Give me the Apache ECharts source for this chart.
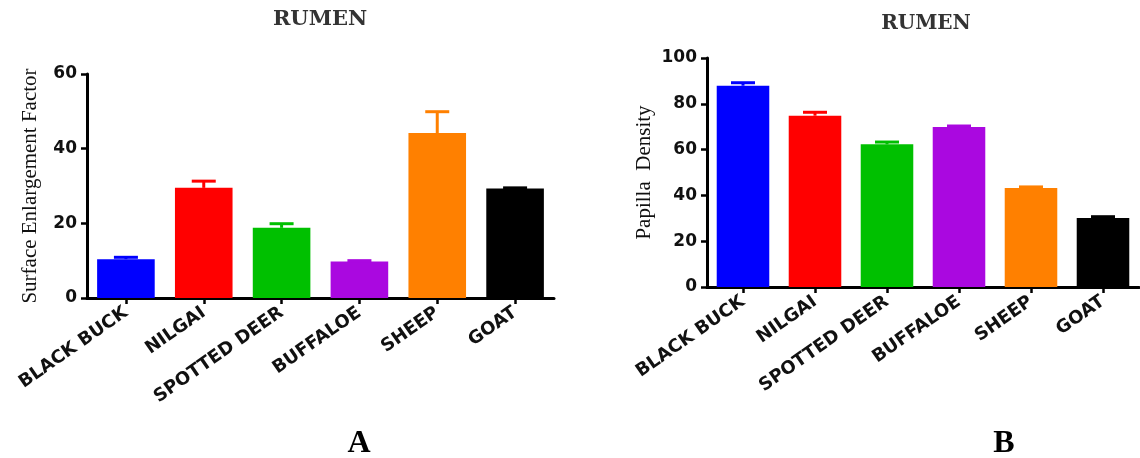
<!DOCTYPE html>
<html>
<head>
<meta charset="utf-8">
<script src="https://cdn.jsdelivr.net/npm/echarts@6/dist/echarts.min.js"></script>
<style>
html,body{margin:0;padding:0;background:#fff;}
#chart{width:1140px;height:458px;}
</style>
</head>
<body>
<div id="chart"></div>
<script>
const categories = ['BLACK BUCK', 'NILGAI', 'SPOTTED DEER', 'BUFFALOE', 'SHEEP', 'GOAT'];
const sefMean = [10.4, 29.5, 18.8, 9.8, 44.2, 29.3];
const sefErr = [0.5, 1.8, 1.1, 0.2, 5.7, 0.2];
const pdMean = [87.9, 74.8, 62.3, 69.9, 43.2, 30.1];
const pdErr = [1.3, 1.5, 1.0, 0.4, 0.5, 0.6];
const barColors = ['#0000ff', '#ff0000', '#00c000', '#aa08e0', '#ff8000', '#000000'];
const sefTicks = { min: 0, max: 60, interval: 20 };
const pdTicks = { min: 0, max: 100, interval: 20 };
const titleText = 'RUMEN';
const sefName = 'Surface Enlargement Factor';
const pdName = 'Papilla  Density';
const panelLetters = ['A', 'B'];

const chart = echarts.init(document.getElementById('chart'));

function barData(vals) {
  return vals.map((v, i) => ({ value: v, itemStyle: { color: barColors[i] } }));
}
function errData(means, errs) {
  return means.map((m, i) => [i, m, errs[i]]);
}
function renderErr(params, api) {
  const x = api.value(0), m = api.value(1), e = api.value(2);
  const p0 = api.coord([x, m]);
  const p1 = api.coord([x, m + e]);
  const cap = 24;
  const c = barColors[params.dataIndex];
  return {
    type: 'group',
    children: [
      { type: 'line', shape: { x1: p0[0], y1: p0[1], x2: p1[0], y2: p1[1] }, style: { stroke: c, lineWidth: 3 } },
      { type: 'line', shape: { x1: p1[0] - cap / 2, y1: p1[1], x2: p1[0] + cap / 2, y2: p1[1] }, style: { stroke: c, lineWidth: 3 } }
    ]
  };
}

const axisLineStyle = { lineStyle: { color: '#000', width: 3 } };
const tickStyle = { show: true, length: 6, lineStyle: { color: '#000', width: 2.5 } };

function xAxisCfg(gridIndex) {
  return {
    type: 'category', gridIndex, data: categories,
    axisLine: axisLineStyle,
    axisTick: Object.assign({ alignWithLabel: true }, tickStyle),
    axisLabel: {
      rotate: 35, interval: 0, margin: 13,
      fontFamily: 'DejaVu Sans', fontWeight: 'bold', fontSize: 18, color: '#111'
    },
    splitLine: { show: false }
  };
}
function yAxisCfg(gridIndex, ticks, name, gap, fs) {
  return {
    type: 'value', gridIndex, min: ticks.min, max: ticks.max, interval: ticks.interval,
    name, nameLocation: 'middle', nameRotate: 90, nameGap: gap,
    nameTextStyle: { fontFamily: 'Liberation Serif', fontSize: 21, color: '#111' },
    axisLine: Object.assign({ show: true }, axisLineStyle),
    axisTick: tickStyle,
    axisLabel: { fontFamily: 'DejaVu Sans', fontWeight: 'bold', fontSize: fs, color: '#111', margin: 10 },
    splitLine: { show: false }
  };
}

chart.setOption({
  backgroundColor: '#fff',
  animation: false,
  grid: [
    { left: 87, top: 74, width: 467, height: 224 },
    { left: 707, top: 58, width: 432, height: 229 }
  ],
  xAxis: [xAxisCfg(0), xAxisCfg(1)],
  yAxis: [yAxisCfg(0, sefTicks, sefName, 46, 17), yAxisCfg(1, pdTicks, pdName, 52, 17)],
  graphic: [
    { type: 'text', x: 320, y: 20, style: { text: titleText, fontFamily: 'DejaVu Serif', fontWeight: 'bold', fontSize: 21, fill: '#333', align: 'center', verticalAlign: 'middle' } },
    { type: 'text', x: 926, y: 24, style: { text: titleText, fontFamily: 'DejaVu Serif', fontWeight: 'bold', fontSize: 20, fill: '#333', align: 'center', verticalAlign: 'middle' } },
    { type: 'text', x: 359, y: 444, style: { text: panelLetters[0], fontFamily: 'Liberation Serif', fontWeight: 'bold', fontSize: 32, fill: '#000', align: 'center', verticalAlign: 'middle' } },
    { type: 'text', x: 1004, y: 444, style: { text: panelLetters[1], fontFamily: 'Liberation Serif', fontWeight: 'bold', fontSize: 32, fill: '#000', align: 'center', verticalAlign: 'middle' } }
  ],
  series: [
    { type: 'bar', xAxisIndex: 0, yAxisIndex: 0, data: barData(sefMean), barWidth: '74%' },
    { type: 'custom', xAxisIndex: 0, yAxisIndex: 0, data: errData(sefMean, sefErr), renderItem: renderErr, z: 3 },
    { type: 'bar', xAxisIndex: 1, yAxisIndex: 1, data: barData(pdMean), barWidth: '73%' },
    { type: 'custom', xAxisIndex: 1, yAxisIndex: 1, data: errData(pdMean, pdErr), renderItem: renderErr, z: 3 }
  ]
});
</script>
</body>
</html>
